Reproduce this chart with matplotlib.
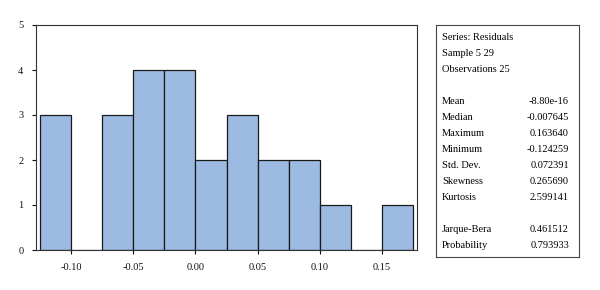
import numpy as np
from matplotlib import pyplot as plt

# histogram of residuals: bin edges and counts
bin_edges = [-0.125, -0.100, -0.075, -0.050, -0.025, 0.000, 0.025,
             0.050, 0.075, 0.100, 0.125, 0.150, 0.175]
counts = [3, 0, 3, 4, 4, 2, 3, 2, 2, 1, 0, 1]

x_ticks = [-0.10, -0.05, 0.00, 0.05, 0.10, 0.15]
y_ticks = [0, 1, 2, 3, 4, 5]

header = ["Series: Residuals", "Sample 5 29", "Observations 25"]
stat_names = ["Mean", "Median", "Maximum", "Minimum", "Std. Dev.", "Skewness", "Kurtosis"]
stat_values = ["-8.80e-16", "-0.007645", "0.163640", "-0.124259", "0.072391", "0.265690", "2.599141"]
jb_names = ["Jarque-Bera", "Probability"]
jb_values = ["0.461512", "0.793933"]

plt.rcParams['font.family'] = ['Liberation Serif', 'DejaVu Serif']

W, H = 600, 290
fig = plt.figure(figsize=(6, 2.9), dpi=100)
ax = fig.add_axes([36 / W, 1 - 250 / H, (417 - 36) / W, (250 - 25) / H])

edges = np.array(bin_edges)
ax.bar(edges[:-1], counts, width=np.diff(edges), align="edge",
       color="#9dbbe2", edgecolor="#1a1a1a", linewidth=0.9)

ax.set_xlim(-0.1285, 0.1785)
ax.set_ylim(0, 5)
ax.set_xticks(x_ticks)
ax.set_xticklabels([f"{t:.2f}" for t in x_ticks])
ax.set_yticks(y_ticks)
ax.tick_params(axis="both", labelsize=7.5, length=3, width=0.8, colors="#111111")
ax.tick_params(axis="x", pad=6)
ax.tick_params(axis="y", pad=6)
for s in ax.spines.values():
    s.set_linewidth(0.8)
    s.set_color("#333333")

# statistics box
box = fig.add_axes([436 / W, 1 - 257 / H, (579 - 436) / W, (257 - 25) / H])
box.set_xticks([])
box.set_yticks([])
for s in box.spines.values():
    s.set_linewidth(0.8)
    s.set_color("#444444")

def put(y_px, left, right=None):
    y = 1 - (y_px - 25) / (257 - 25)
    box.text((442 - 436) / (579 - 436), y, left, fontsize=7.5, va="center", ha="left",
             transform=box.transAxes, color="#000000")
    if right is not None:
        box.text((569 - 436) / (579 - 436), y, right, fontsize=7.5, va="center", ha="right",
                 transform=box.transAxes, color="#000000")

for i, t in enumerate(header):
    put(38 + i * 16, t)
for i, (n, v) in enumerate(zip(stat_names, stat_values)):
    put(101 + i * 16, n, v)
for i, (n, v) in enumerate(zip(jb_names, jb_values)):
    put(230 + i * 16, n, v)

plt.savefig("out.png", dpi=100)
